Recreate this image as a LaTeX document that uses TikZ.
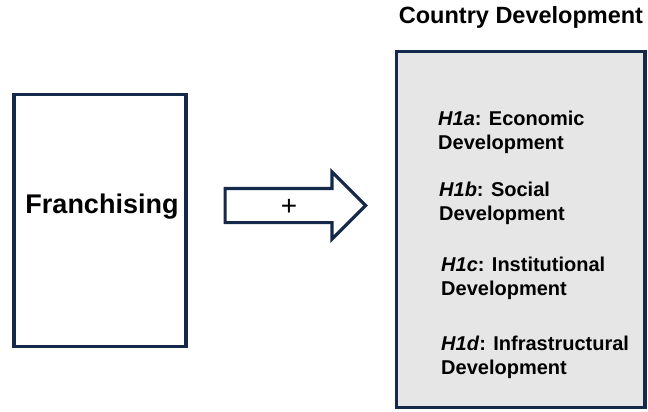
\documentclass[tikz,border=0pt]{standalone}
\usepackage{fontspec}
\setmainfont{Liberation Sans}
\usetikzlibrary{shapes.arrows}
\definecolor{boxline}{HTML}{15294A}
\definecolor{boxfill}{HTML}{E6E6E6}

\begin{document}
\begin{tikzpicture}[x=1pt,y=-1pt]
\tikzstyle{every node}+=[inner sep=0pt]
\tikzstyle{frame}=[draw=boxline,line width=3.2pt]
\tikzstyle{hyp}=[anchor=base west,align=left,font=\bfseries\fontsize{20}{23.5}\selectfont]
\useasboundingbox (0,0) rectangle (648,412);
% left box
\node [frame,minimum width=172pt,minimum height=252pt] (franbox) at (100,220.5) {};
\node [font=\bfseries\fontsize{27}{30}\selectfont] (fran) at (102,207) {Franchising};
% block arrow
\node [frame,single arrow,single arrow head extend=16.5pt,single arrow head indent=0pt,
  inner ysep=15.5pt,minimum width=64pt,minimum height=140.5pt,anchor=tail] (link) at (223.5,205.5) {};
\node [font=\fontsize{28}{30}\selectfont] (plus) at (289,207) {+};
% right box
\node [frame,fill=boxfill,minimum width=248.5pt,minimum height=356pt] (devbox) at (520.75,229.5) {};
\node [font=\bfseries\fontsize{23.5}{26}\selectfont] (devtitle) at (521,17) {Country Development};
\node [hyp] (h1a) at (438,149) {\textit{H1a}: Economic\\Development};
\node [hyp] (h1b) at (439,220) {\textit{H1b}: Social\\Development};
\node [hyp] (h1c) at (441,295) {\textit{H1c}: Institutional\\Development};
\node [hyp] (h1d) at (441,374) {\textit{H1d}: Infrastructural\\Development};
\end{tikzpicture}
\end{document}
